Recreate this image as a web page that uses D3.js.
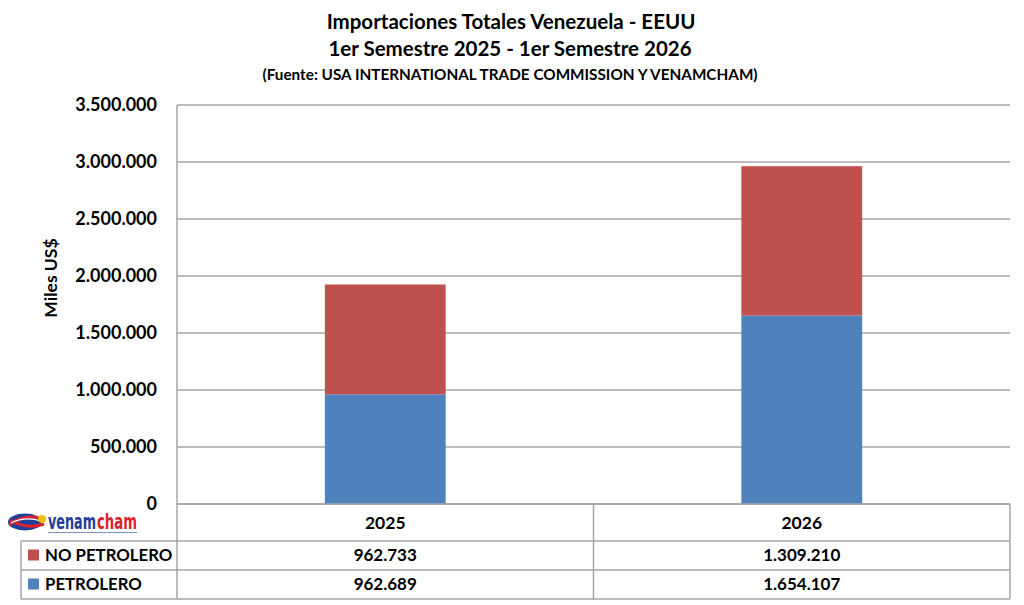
<!DOCTYPE html>
<html>
<head>
<meta charset="utf-8">
<script src="https://cdn.jsdelivr.net/npm/d3@7"></script>
<style>
  body { margin: 0; background: #fff; }
  text { font-family: Lato, "Open Sans", sans-serif; font-weight: bold; fill: #000; }
</style>
</head>
<body>
<div id="chart"></div>
<script>
// Data
const years = ["2025", "2026"];
const seriesNames = ["NO PETROLERO", "PETROLERO"];
const petrolero = [962689, 1654107];
const noPetrolero = [962733, 1309210];
const yTicks = [0, 500000, 1000000, 1500000, 2000000, 2500000, 3000000, 3500000];
const colors = { "PETROLERO": "#4F81BD", "NO PETROLERO": "#C0504D" };

const width = 1024, height = 605;
const margin = { left: 177, right: 14, top: 105, bottom: 101 };
const plotW = width - margin.left - margin.right;
const plotH = height - margin.top - margin.bottom;

// Spanish-style number format: dots as thousands separator
const locale = d3.formatLocale({ decimal: ",", thousands: ".", grouping: [3], currency: ["", ""] });
const fmt = locale.format(",d");

const svg = d3.select("#chart").append("svg")
  .attr("width", width)
  .attr("height", height);

// Titles
svg.append("text").attr("x", 511).attr("y", 29).attr("text-anchor", "middle")
  .style("font-size", "20.5px").text("Importaciones Totales Venezuela - EEUU");
svg.append("text").attr("x", 510).attr("y", 56).attr("text-anchor", "middle")
  .style("font-size", "20.5px").text("1er Semestre 2025 - 1er Semestre 2026");
svg.append("text").attr("x", 510).attr("y", 80).attr("text-anchor", "middle")
  .style("font-size", "15.3px").text("(Fuente: USA INTERNATIONAL TRADE COMMISSION Y VENAMCHAM)");

const x = d3.scaleBand().domain(years).range([0, plotW]).paddingInner(0).paddingOuter(0);
const y = d3.scaleLinear().domain([0, 3500000]).range([plotH, 0]);
const barW = x.bandwidth() * 0.29;

const g = svg.append("g").attr("transform", `translate(${margin.left},${margin.top})`);

// Gridlines
g.selectAll(".grid")
  .data(yTicks)
  .join("line")
  .attr("class", "grid")
  .attr("x1", 0).attr("x2", plotW)
  .attr("y1", d => y(d)).attr("y2", d => y(d))
  .style("stroke", "#a6a6a6")
  .style("stroke-width", 1.5);

// Y tick labels
g.selectAll(".ytick")
  .data(yTicks)
  .join("text")
  .attr("class", "ytick")
  .attr("x", -20)
  .attr("y", d => y(d))
  .attr("dy", "0.35em")
  .attr("text-anchor", "end")
  .style("font-size", "18px")
  .text(d => d === 0 ? "0" : fmt(d));

// Axis label
svg.append("text")
  .attr("transform", `translate(57,278) rotate(-90)`)
  .attr("text-anchor", "middle")
  .style("font-size", "17.5px")
  .text("Miles US$");

// Stacked bars
const rows = years.map((yr, i) => ({ year: yr, "PETROLERO": petrolero[i], "NO PETROLERO": noPetrolero[i] }));
const stack = d3.stack().keys(["PETROLERO", "NO PETROLERO"]);
const layers = stack(rows);

g.selectAll(".layer")
  .data(layers)
  .join("g")
  .attr("class", "layer")
  .attr("fill", d => colors[d.key])
  .selectAll("rect")
  .data(d => d)
  .join("rect")
  .attr("x", d => x(d.data.year) + x.bandwidth() / 2 - barW / 2)
  .attr("y", d => y(d[1]))
  .attr("width", barW)
  .attr("height", d => y(d[0]) - y(d[1]));

// Y axis line
g.append("line")
  .attr("x1", 0).attr("x2", 0).attr("y1", 0).attr("y2", plotH)
  .style("stroke", "#a6a6a6").style("stroke-width", 1.5);

// Data table below the chart
const rowH = [37, 29, 29];
const tableTop = margin.top + plotH;
const tableLeft = 21;
const lineStyle = sel => sel.style("stroke", "#a6a6a6").style("stroke-width", 1.5);
const yRow = [tableTop, tableTop + rowH[0], tableTop + rowH[0] + rowH[1], tableTop + rowH[0] + rowH[1] + rowH[2]];
const tRight = margin.left + plotW;

// horizontal lines
svg.append("line").attr("x1", margin.left).attr("x2", tRight).attr("y1", yRow[0]).attr("y2", yRow[0]).call(lineStyle);
[1, 2, 3].forEach(i => {
  svg.append("line").attr("x1", tableLeft).attr("x2", tRight).attr("y1", yRow[i]).attr("y2", yRow[i]).call(lineStyle);
});
// vertical lines
svg.append("line").attr("x1", tableLeft).attr("x2", tableLeft).attr("y1", yRow[1]).attr("y2", yRow[3]).call(lineStyle);
[0, 1, 2].forEach(i => {
  const xx = margin.left + i * x.bandwidth();
  svg.append("line").attr("x1", xx).attr("x2", xx).attr("y1", yRow[0]).attr("y2", yRow[3]).call(lineStyle);
});

// header row: years
svg.selectAll(".yearLabel")
  .data(years)
  .join("text")
  .attr("class", "yearLabel")
  .attr("x", d => margin.left + x(d) + x.bandwidth() / 2)
  .attr("y", (yRow[0] + yRow[1]) / 2)
  .attr("dy", "0.35em")
  .attr("text-anchor", "middle")
  .style("font-size", "17.5px")
  .text(d => d);

// series rows
const tableSeries = [
  { name: "NO PETROLERO", values: noPetrolero },
  { name: "PETROLERO", values: petrolero }
];
tableSeries.forEach((s, i) => {
  const cy = (yRow[i + 1] + yRow[i + 2]) / 2;
  svg.append("rect")
    .attr("x", 28).attr("y", cy - 6).attr("width", 11).attr("height", 11)
    .attr("fill", colors[s.name]);
  svg.append("text")
    .attr("x", 45).attr("y", cy).attr("dy", "0.35em")
    .style("font-size", "16.8px").text(s.name);
  svg.selectAll(null)
    .data(s.values)
    .join("text")
    .attr("x", (d, j) => margin.left + x(years[j]) + x.bandwidth() / 2)
    .attr("y", cy).attr("dy", "0.35em")
    .attr("text-anchor", "middle")
    .style("font-size", "17px")
    .text(d => fmt(d));
});

// venamcham logo (approximation)
const logo = svg.append("g").attr("transform", "translate(5,512)");
logo.append("ellipse").attr("cx", 20).attr("cy", 10).attr("rx", 17).attr("ry", 8.5)
  .attr("fill", "#1f3f99");
logo.append("path")
  .attr("d", "M4,13 Q20,1 37,7 M5,8 Q22,18 39,12")
  .attr("fill", "none").attr("stroke", "#d9232d").attr("stroke-width", 3);
logo.append("path")
  .attr("d", "M6,11 Q20,4 36,9")
  .attr("fill", "none").attr("stroke", "#fff").attr("stroke-width", 1.2);
logo.append("ellipse").attr("cx", 37).attr("cy", 7).attr("rx", 4).attr("ry", 4)
  .attr("fill", "#f2c200");

// condensed wordmark: scale each word to its target width
const logoFont = "'DejaVu Sans Condensed', 'Liberation Sans', sans-serif";
const logoWord = (txt, x0, targetW, fill) => {
  const t = logo.append("text")
    .style("font-size", "15px").style("font-family", logoFont).style("fill", fill)
    .text(txt);
  const w = t.node().getComputedTextLength();
  t.attr("transform", `translate(${x0},17) scale(${targetW / w},1.4)`);
};
logoWord("venam", 43, 48, "#1f3f99");
logoWord("cham", 92, 40, "#d9232d");
logo.append("rect").attr("x", 43).attr("y", 20).attr("width", 89).attr("height", 1)
  .attr("fill", "#7f8fbf");
</script>
</body>
</html>
